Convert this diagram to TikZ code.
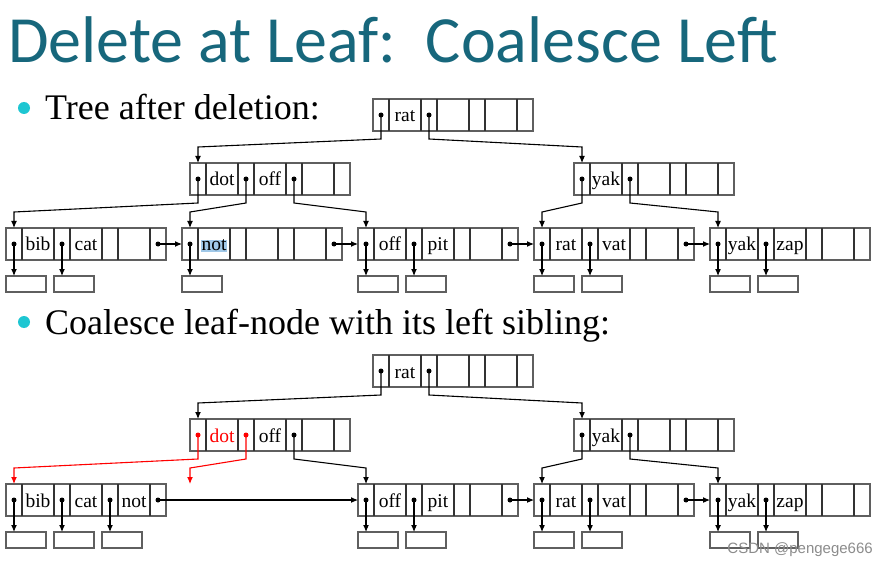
\documentclass[tikz,border=0pt]{standalone}
\usepackage{fontspec}
\setmainfont{Liberation Serif}
\newfontfamily\titlefont{Carlito}
\newfontfamily\markfont{Liberation Sans}
\usetikzlibrary{calc,arrows.meta}
\definecolor{titleteal}{RGB}{23,103,124}
\definecolor{bulletcyan}{RGB}{30,198,210}
\definecolor{boxgray}{RGB}{95,95,95}
\definecolor{hilite}{RGB}{160,200,232}
\tikzset{
  >={Latex[length=7pt,width=6pt]},
  bnode/.style={draw=boxgray,line width=1.3pt,minimum width=160pt,
    minimum height=32pt,inner sep=0pt,outer sep=0pt},
  cellline/.style={draw=black!80,line width=1.3pt},
  keytext/.style={inner sep=0pt,font=\fontsize{19.5}{20}\selectfont,
    text height=14pt,text depth=0pt},
  childbox/.style={draw=boxgray,line width=1.3pt,minimum width=40pt,
    minimum height=16pt,inner sep=0pt,outer sep=0pt},
  ptrline/.style={->,line width=1.1pt},
  bullet/.style={circle,fill=bulletcyan,minimum size=12pt,inner sep=0pt},
  bodytext/.style={inner sep=0pt,font=\fontsize{36}{40}\selectfont}
}
% one B+ tree node: name, left, top, three keys
\newcommand\BTreeNode[6]{%
  \node[bnode,anchor=north west] (#1) at (#2,#3) {};
  \foreach \dx in {16,48,64,96,112,144}
    \draw[cellline] (#2+\dx,#3) -- (#2+\dx,#3+32);
  \foreach \k/\dx in {0/8,1/56,2/104,3/152}
    \coordinate (#1-p\k) at (#2+\dx,#3+16);
  \node[keytext] (#1-k1) at (#2+32,#3+16) {#4};
  \node[keytext] (#1-k2) at (#2+80,#3+16) {#5};
  \node[keytext] (#1-k3) at (#2+128,#3+16) {#6};
}
\newcommand\TreePtr[3][black]{% from pointer, to pointer of child
  \draw[ptrline,#1] (#2) -- ++(0,24) -- ($(#3)+(0,-32)$) -- ($(#3)+(0,-16)$);
  \fill[#1] (#2) circle (2.5pt);
}
\newcommand\ChildPtr[2]{%
  \draw[ptrline] (#1) -- (#1 |- #2.north);
  \fill (#1) circle (2.5pt);
}
\newcommand\NextPtr[2]{%
  \draw[ptrline] (#1) -- (#2.west);
  \fill (#1) circle (2.5pt);
}

\begin{document}
\begin{tikzpicture}[x=1pt,y=-1pt]
  \useasboundingbox[fill=white] (0,0) rectangle (893,577);

  \def\up{256} % shift of the second tree

  \node[anchor=base west,inner sep=0pt,text=titleteal,
    font=\titlefont\fontsize{66}{70}\selectfont] (title) at (8,63)
    {Delete at Leaf:\ \ Coalesce Left};

  % tree after deletion
  \node[bullet] (b1) at (24,108) {};
  \node[bodytext,anchor=base west] (t1) at (45,120) {Tree after deletion:};

  \BTreeNode{R1}{373}{99}{rat}{}{}
  \BTreeNode{I1a}{190}{163}{dot}{off}{}
  \BTreeNode{I1b}{574}{163}{yak}{}{}
  \BTreeNode{L1a}{6}{228}{bib}{cat}{}
  \BTreeNode{L1b}{182}{228}{{\setlength\fboxsep{0.5pt}\colorbox{hilite}{not}}}{}{}
  \BTreeNode{L1c}{358}{228}{off}{pit}{}
  \BTreeNode{L1d}{534}{228}{rat}{vat}{}
  \BTreeNode{L1e}{710}{228}{yak}{zap}{}

  \foreach \n/\x in {a1/6,a2/54,b1/182,c1/358,c2/406,d1/534,d2/582,e1/710,e2/758}
    \node[childbox,anchor=north west] (C1\n) at (\x,276) {};

  \TreePtr{R1-p0}{I1a-p0}
  \TreePtr{R1-p1}{I1b-p0}
  \TreePtr{I1a-p0}{L1a-p0}
  \TreePtr{I1a-p1}{L1b-p0}
  \TreePtr{I1a-p2}{L1c-p0}
  \TreePtr{I1b-p0}{L1d-p0}
  \TreePtr{I1b-p1}{L1e-p0}

  \ChildPtr{L1a-p0}{C1a1} \ChildPtr{L1a-p1}{C1a2}
  \ChildPtr{L1b-p0}{C1b1}
  \ChildPtr{L1c-p0}{C1c1} \ChildPtr{L1c-p1}{C1c2}
  \ChildPtr{L1d-p0}{C1d1} \ChildPtr{L1d-p1}{C1d2}
  \ChildPtr{L1e-p0}{C1e1} \ChildPtr{L1e-p1}{C1e2}

  \NextPtr{L1a-p3}{L1b} \NextPtr{L1b-p3}{L1c}
  \NextPtr{L1c-p3}{L1d} \NextPtr{L1d-p3}{L1e}

  % after coalescing
  \node[bullet] (b2) at (24,322) {};
  \node[bodytext,anchor=base west] (t2) at (45,334)
    {Coalesce leaf-node with its left sibling:};

  \BTreeNode{R2}{373}{99+\up}{rat}{}{}
  \BTreeNode{I2a}{190}{163+\up}{\textcolor{red}{dot}}{off}{}
  \BTreeNode{I2b}{574}{163+\up}{yak}{}{}
  \BTreeNode{L2a}{6}{228+\up}{bib}{cat}{not}
  \BTreeNode{L2c}{358}{228+\up}{off}{pit}{}
  \BTreeNode{L2d}{534}{228+\up}{rat}{vat}{}
  \BTreeNode{L2e}{710}{228+\up}{yak}{zap}{}
  \coordinate (gone) at (190,244+\up);

  \foreach \n/\x in {a1/6,a2/54,a3/102,c1/358,c2/406,d1/534,d2/582,e1/710,e2/758}
    \node[childbox,anchor=north west] (C2\n) at (\x,276+\up) {};

  \TreePtr{R2-p0}{I2a-p0}
  \TreePtr{R2-p1}{I2b-p0}
  \TreePtr[red]{I2a-p0}{L2a-p0}
  \TreePtr[red]{I2a-p1}{gone}
  \TreePtr{I2a-p2}{L2c-p0}
  \TreePtr{I2b-p0}{L2d-p0}
  \TreePtr{I2b-p1}{L2e-p0}

  \ChildPtr{L2a-p0}{C2a1} \ChildPtr{L2a-p1}{C2a2} \ChildPtr{L2a-p2}{C2a3}
  \ChildPtr{L2c-p0}{C2c1} \ChildPtr{L2c-p1}{C2c2}
  \ChildPtr{L2d-p0}{C2d1} \ChildPtr{L2d-p1}{C2d2}
  \ChildPtr{L2e-p0}{C2e1} \ChildPtr{L2e-p1}{C2e2}

  \NextPtr{L2a-p3}{L2c} \NextPtr{L2c-p3}{L2d} \NextPtr{L2d-p3}{L2e}

  \node[anchor=east,inner sep=0pt,text=black!45,
    font=\markfont\fontsize{15}{16}\selectfont] (mark) at (873,550)
    {CSDN @pengege666};
\end{tikzpicture}
\end{document}
